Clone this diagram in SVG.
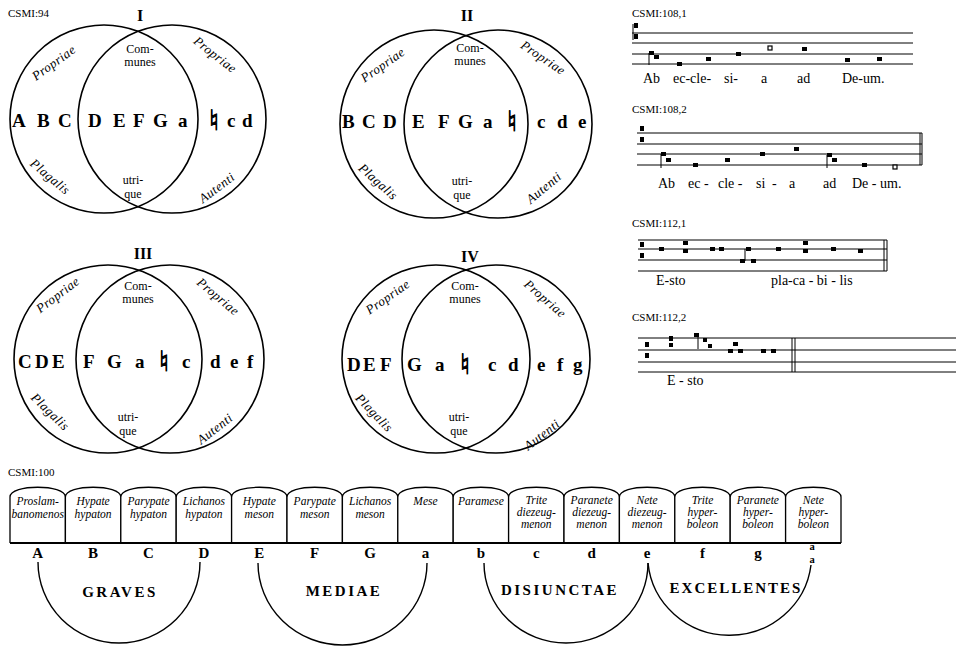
<svg xmlns="http://www.w3.org/2000/svg" width="972" height="648" viewBox="0 0 972 648">
<style>
text{font-family:"Liberation Serif","DejaVu Serif",serif;fill:#000}
.lab{font-size:11px}
.num{font-size:16px;font-weight:bold;text-anchor:middle}
.big{font-size:19px;font-weight:bold}
.nat{font-family:"DejaVu Sans","DejaVu Serif",sans-serif;font-size:28px;text-anchor:middle;stroke:#000;stroke-width:0.9;fill:#000}
.sm{font-size:12px;text-anchor:middle}
.it{font-size:13px;font-style:italic;text-anchor:middle;letter-spacing:0.5px}
.circ{fill:none;stroke:#000;stroke-width:1.6}
.staff{stroke:#000;stroke-width:1;fill:none}
.note{fill:#000}
.hol{fill:#fff;stroke:#000;stroke-width:1.2}
.lyr{font-size:14px}
.tab{fill:#fff;stroke:#000;stroke-width:1.3}
.tt{font-size:11.5px;font-style:italic;text-anchor:middle}
.nl{font-size:15px;font-weight:bold;text-anchor:middle}
.grp{font-size:15px;font-weight:bold;text-anchor:middle;letter-spacing:2.5px}
.arc{fill:none;stroke:#000;stroke-width:1.4}
</style>

<!-- Venn I -->
<g id="venn1">
<text class="lab" x="8" y="17">CSMI:94</text>
<text class="num" x="140" y="21">I</text>
<circle class="circ" cx="104" cy="119" r="94"/>
<circle class="circ" cx="172" cy="119" r="94"/>
<text class="sm" x="140" y="53">Com-</text>
<text class="sm" x="140" y="66">munes</text>
<text class="sm" x="133" y="184">utri-</text>
<text class="sm" x="133" y="198">que</text>
<text class="it" transform="translate(54,63) rotate(-36)" x="0" y="4">Propriae</text>
<text class="it" transform="translate(215,55) rotate(38)" x="0" y="4">Propriae</text>
<text class="it" transform="translate(50,177) rotate(40)" x="0" y="4">Plagalis</text>
<text class="it" transform="translate(217,188) rotate(-37)" x="0" y="4">Autenti</text>
<text class="big" y="127"><tspan x="12">A</tspan><tspan x="37">B</tspan><tspan x="58">C</tspan><tspan x="88">D</tspan><tspan x="113">E</tspan><tspan x="133">F</tspan><tspan x="153">G</tspan><tspan x="178">a</tspan><tspan x="227">c</tspan><tspan x="242">d</tspan></text>
<text class="nat" x="214" y="130">♮︎</text>
</g>

<!-- Venn II -->
<g id="venn2">
<text class="num" x="467" y="21">II</text>
<circle class="circ" cx="434" cy="124" r="94"/>
<circle class="circ" cx="498" cy="124" r="94"/>
<text class="sm" x="470" y="52">Com-</text>
<text class="sm" x="470" y="65">munes</text>
<text class="sm" x="462" y="185">utri-</text>
<text class="sm" x="462" y="199">que</text>
<text class="it" transform="translate(383,65) rotate(-35)" x="0" y="4">Propriae</text>
<text class="it" transform="translate(543,58) rotate(34)" x="0" y="4">Propriae</text>
<text class="it" transform="translate(378,182) rotate(42)" x="0" y="4">Plagalis</text>
<text class="it" transform="translate(544,188) rotate(-40)" x="0" y="4">Autenti</text>
<text class="big" y="128"><tspan x="342">B</tspan><tspan x="362">C</tspan><tspan x="383">D</tspan><tspan x="412">E</tspan><tspan x="438">F</tspan><tspan x="458">G</tspan><tspan x="483">a</tspan><tspan x="537">c</tspan><tspan x="557">d</tspan><tspan x="578">e</tspan></text>
<text class="nat" x="512" y="131">♮︎</text>
</g>

<!-- Venn III -->
<g id="venn3">
<text class="num" x="143" y="259">III</text>
<circle class="circ" cx="108" cy="359" r="94"/>
<circle class="circ" cx="170" cy="359" r="94"/>
<text class="sm" x="138" y="290">Com-</text>
<text class="sm" x="138" y="303">munes</text>
<text class="sm" x="128" y="421">utri-</text>
<text class="sm" x="128" y="435">que</text>
<text class="it" transform="translate(58,295) rotate(-37)" x="0" y="4">Propriae</text>
<text class="it" transform="translate(218,297) rotate(40)" x="0" y="4">Propriae</text>
<text class="it" transform="translate(50,412) rotate(44)" x="0" y="4">Plagalis</text>
<text class="it" transform="translate(215,429) rotate(-38)" x="0" y="4">Autenti</text>
<text class="big" y="368"><tspan x="18">C</tspan><tspan x="35">D</tspan><tspan x="52">E</tspan><tspan x="83">F</tspan><tspan x="107">G</tspan><tspan x="135">a</tspan><tspan x="182">c</tspan><tspan x="210">d</tspan><tspan x="230">e</tspan><tspan x="247">f</tspan></text>
<text class="nat" x="164" y="371">♮︎</text>
</g>

<!-- Venn IV -->
<g id="venn4">
<text class="num" x="470" y="262">IV</text>
<circle class="circ" cx="436" cy="359" r="94"/>
<circle class="circ" cx="496" cy="359" r="94"/>
<text class="sm" x="465" y="290">Com-</text>
<text class="sm" x="465" y="303">munes</text>
<text class="sm" x="459" y="421">utri-</text>
<text class="sm" x="459" y="435">que</text>
<text class="it" transform="translate(388,297) rotate(-35)" x="0" y="4">Propriae</text>
<text class="it" transform="translate(545,299) rotate(41)" x="0" y="4">Propriae</text>
<text class="it" transform="translate(374,413) rotate(46)" x="0" y="4">Plagalis</text>
<text class="it" transform="translate(542,435) rotate(-38)" x="0" y="4">Autenti</text>
<text class="big" y="371"><tspan x="347">D</tspan><tspan x="363">E</tspan><tspan x="380">F</tspan><tspan x="407">G</tspan><tspan x="435">a</tspan><tspan x="488">c</tspan><tspan x="508">d</tspan><tspan x="537">e</tspan><tspan x="557">f</tspan><tspan x="573">g</tspan></text>
<text class="nat" x="465" y="374">♮︎</text>
</g>

<!-- Music 108,1 -->
<g id="music1">
<text class="lab" x="632" y="17">CSMI:108,1</text>
<path class="staff" d="M632 33H913M632 43H913M632 54H913M632 64H913"/>
<path class="staff" d="M633 24V40M649 53V65"/>
<rect class="note" x="634" y="23" width="4" height="5"/>
<rect class="note" x="634" y="34" width="4" height="5"/>
<rect class="note" x="649" y="51" width="5" height="4"/>
<rect class="note" x="654" y="55" width="5" height="4"/>
<rect class="note" x="677" y="62" width="5" height="4"/>
<rect class="note" x="706" y="57" width="5" height="4"/>
<rect class="note" x="736" y="52" width="5" height="4"/>
<rect class="hol" x="768" y="46" width="4" height="4"/>
<rect class="note" x="802" y="47" width="5" height="4"/>
<rect class="note" x="845" y="58" width="5" height="4"/>
<rect class="note" x="877" y="57" width="5" height="4"/>
<text class="lyr" y="83"><tspan x="643">Ab</tspan><tspan x="673">ec-cle-</tspan><tspan x="724">si-</tspan><tspan x="761">a</tspan><tspan x="797">ad</tspan><tspan x="842">De-um.</tspan></text>
</g>

<!-- Music 108,2 -->
<g id="music2">
<text class="lab" x="632" y="113">CSMI:108,2</text>
<path class="staff" d="M637 133H922M637 144H922M637 154H922M637 165H922"/>
<path class="staff" d="M920 133V165M922 133V165M661 154V168M827 155V168"/>
<rect class="note" x="640" y="126" width="4" height="5"/>
<rect class="note" x="640" y="137" width="4" height="5"/>
<rect class="note" x="661" y="152" width="5" height="4"/>
<rect class="note" x="666" y="158" width="5" height="4"/>
<rect class="note" x="693" y="163" width="5" height="4"/>
<rect class="note" x="725" y="158" width="5" height="4"/>
<rect class="note" x="760" y="152" width="5" height="4"/>
<rect class="note" x="794" y="147" width="5" height="4"/>
<rect class="note" x="827" y="153" width="5" height="4"/>
<rect class="note" x="832" y="158" width="5" height="4"/>
<rect class="note" x="862" y="163" width="5" height="4"/>
<rect class="hol" x="893" y="165" width="4" height="4"/>
<text class="lyr" y="188"><tspan x="658">Ab</tspan><tspan x="688">ec -</tspan><tspan x="718">cle -</tspan><tspan x="756">si</tspan><tspan x="772">-</tspan><tspan x="789">a</tspan><tspan x="823">ad</tspan><tspan x="852">De - um.</tspan></text>
</g>

<!-- Music 112,1 -->
<g id="music3">
<text class="lab" x="632" y="227">CSMI:112,1</text>
<path class="staff" d="M638 240H887M638 249H887M638 260H887M638 271H887"/>
<path class="staff" d="M884 240V271M887 240V271M745 249V261"/>
<rect class="note" x="640" y="242" width="4" height="5"/>
<rect class="note" x="640" y="253" width="4" height="5"/>
<rect class="note" x="659" y="247" width="5" height="4"/>
<rect class="note" x="683" y="241" width="5" height="4"/>
<rect class="note" x="683" y="249" width="5" height="4"/>
<rect class="note" x="710" y="247" width="5" height="4"/>
<rect class="note" x="719" y="247" width="5" height="4"/>
<rect class="note" x="740" y="259" width="5" height="4"/>
<rect class="note" x="746" y="247" width="5" height="4"/>
<rect class="note" x="751" y="259" width="5" height="4"/>
<rect class="note" x="776" y="247" width="5" height="4"/>
<rect class="note" x="803" y="241" width="5" height="4"/>
<rect class="note" x="803" y="249" width="5" height="4"/>
<rect class="note" x="831" y="247" width="5" height="4"/>
<rect class="note" x="858" y="249" width="5" height="4"/>
<text class="lyr" y="285"><tspan x="656">E-sto</tspan><tspan x="771">pla-ca - bi - lis</tspan></text>
</g>

<!-- Music 112,2 -->
<g id="music4">
<text class="lab" x="632" y="321">CSMI:112,2</text>
<path class="staff" d="M638 338H956M638 350H956M638 362H956M638 372H956"/>
<path class="staff" d="M792 338V372M795 338V372M698 336V349"/>
<rect class="note" x="645" y="342" width="4" height="5"/>
<rect class="note" x="645" y="353" width="4" height="5"/>
<rect class="note" x="669" y="336" width="4" height="5"/>
<rect class="note" x="669" y="343" width="4" height="4"/>
<rect class="note" x="694" y="333" width="5" height="4"/>
<rect class="note" x="703" y="338" width="4" height="4"/>
<rect class="note" x="708" y="344" width="4" height="4"/>
<rect class="note" x="728" y="349" width="5" height="4"/>
<rect class="note" x="733" y="342" width="5" height="4"/>
<rect class="note" x="738" y="349" width="5" height="4"/>
<rect class="note" x="761" y="349" width="5" height="4"/>
<rect class="note" x="771" y="349" width="5" height="4"/>
<text class="lyr" x="667" y="385">E - sto</text>
</g>

<!-- Tablets -->
<text class="lab" x="8" y="476">CSMI:100</text>
<g id="t1"><path class="tab" d="M10 543V497C10 484 65.4 484 65.4 497V543"/><text class="tt" x="37.7" y="505">Proslam-</text><text class="tt" x="37.7" y="518">banomenos</text><text class="nl" x="37.7" y="558">A</text></g>
<g id="t2"><path class="tab" d="M65.4 543V497C65.4 484 120.8 484 120.8 497V543"/><text class="tt" x="93.1" y="505">Hypate</text><text class="tt" x="93.1" y="518">hypaton</text><text class="nl" x="93.1" y="558">B</text></g>
<g id="t3"><path class="tab" d="M120.8 543V497C120.8 484 176.2 484 176.2 497V543"/><text class="tt" x="148.5" y="505">Parypate</text><text class="tt" x="148.5" y="518">hypaton</text><text class="nl" x="148.5" y="558">C</text></g>
<g id="t4"><path class="tab" d="M176.2 543V497C176.2 484 231.6 484 231.6 497V543"/><text class="tt" x="203.9" y="505">Lichanos</text><text class="tt" x="203.9" y="518">hypaton</text><text class="nl" x="203.9" y="558">D</text></g>
<g id="t5"><path class="tab" d="M231.6 543V497C231.6 484 287 484 287 497V543"/><text class="tt" x="259.3" y="505">Hypate</text><text class="tt" x="259.3" y="518">meson</text><text class="nl" x="259.3" y="558">E</text></g>
<g id="t6"><path class="tab" d="M287 543V497C287 484 342.4 484 342.4 497V543"/><text class="tt" x="314.7" y="505">Parypate</text><text class="tt" x="314.7" y="518">meson</text><text class="nl" x="314.7" y="558">F</text></g>
<g id="t7"><path class="tab" d="M342.4 543V497C342.4 484 397.8 484 397.8 497V543"/><text class="tt" x="370.1" y="505">Lichanos</text><text class="tt" x="370.1" y="518">meson</text><text class="nl" x="370.1" y="558">G</text></g>
<g id="t8"><path class="tab" d="M397.8 543V497C397.8 484 453.2 484 453.2 497V543"/><text class="tt" x="425.5" y="505">Mese</text><text class="nl" x="425.5" y="558">a</text></g>
<g id="t9"><path class="tab" d="M453.2 543V497C453.2 484 508.6 484 508.6 497V543"/><text class="tt" x="480.9" y="505">Paramese</text><text class="nl" x="480.9" y="558">b</text></g>
<g id="t10"><path class="tab" d="M508.6 543V497C508.6 484 564 484 564 497V543"/><text class="tt" x="536.3" y="504">Trite</text><text class="tt" x="536.3" y="516">diezeug-</text><text class="tt" x="536.3" y="528">menon</text><text class="nl" x="536.3" y="558">c</text></g>
<g id="t11"><path class="tab" d="M564 543V497C564 484 619.4 484 619.4 497V543"/><text class="tt" x="591.7" y="504">Paranete</text><text class="tt" x="591.7" y="516">diezeug-</text><text class="tt" x="591.7" y="528">menon</text><text class="nl" x="591.7" y="558">d</text></g>
<g id="t12"><path class="tab" d="M619.4 543V497C619.4 484 674.8 484 674.8 497V543"/><text class="tt" x="647.1" y="504">Nete</text><text class="tt" x="647.1" y="516">diezeug-</text><text class="tt" x="647.1" y="528">menon</text><text class="nl" x="647.1" y="558">e</text></g>
<g id="t13"><path class="tab" d="M674.8 543V497C674.8 484 730.2 484 730.2 497V543"/><text class="tt" x="702.5" y="504">Trite</text><text class="tt" x="702.5" y="516">hyper-</text><text class="tt" x="702.5" y="528">boleon</text><text class="nl" x="702.5" y="558">f</text></g>
<g id="t14"><path class="tab" d="M730.2 543V497C730.2 484 785.6 484 785.6 497V543"/><text class="tt" x="757.9" y="504">Paranete</text><text class="tt" x="757.9" y="516">hyper-</text><text class="tt" x="757.9" y="528">boleon</text><text class="nl" x="757.9" y="558">g</text></g>
<g id="t15"><path class="tab" d="M785.6 543V497C785.6 484 841 484 841 497V543"/><text class="tt" x="813.3" y="504">Nete</text><text class="tt" x="813.3" y="516">hyper-</text><text class="tt" x="813.3" y="528">boleon</text><text class="nl" style="font-size:10.5px"><tspan x="812" y="550">a</tspan><tspan x="812" y="563">a</tspan></text></g>
<path d="M10 543H841" stroke="#000" stroke-width="1.8"/>

<!-- Group arcs -->
<g id="connectors">
<path class="arc" d="M38 562A81 81 0 0 0 200 562"/>
<path class="arc" d="M258 563A84.5 82 0 0 0 427 563"/>
<path class="arc" d="M484 563A82 80 0 0 0 648 563"/>
<path class="arc" d="M648 563A82 80 0 0 0 811 565"/>
</g>
<text class="grp" x="120" y="597">GRAVES</text>
<text class="grp" x="344" y="596">MEDIAE</text>
<text class="grp" x="560" y="595">DISIUNCTAE</text>
<text class="grp" x="736" y="593" style="letter-spacing:2px">EXCELLENTES</text>
</svg>
